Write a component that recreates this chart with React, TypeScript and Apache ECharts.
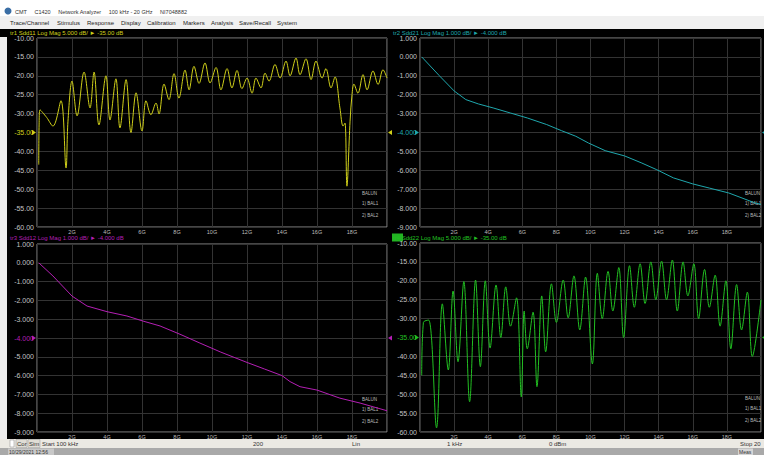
import React, { useEffect, useRef } from "react";
import * as echarts from "echarts";

// ---------- DATA ----------
// tr1 Sdd11 (GHz, dB)
const s11Freq = [0.1, 0.12, 0.17, 0.55, 0.91, 1.37, 1.66, 1.77, 2.0, 2.29, 2.69, 3.03, 3.26, 3.54, 3.94, 4.17, 4.51, 4.74, 5.09, 5.37, 5.66, 6.0, 6.23, 6.51, 6.8, 6.97, 7.26, 7.54, 7.83, 8.11, 8.46, 8.69, 8.97, 9.26, 9.6, 9.89, 10.23, 10.51, 10.86, 11.14, 11.43, 11.71, 12.0, 12.29, 12.51, 12.8, 13.03, 13.26, 13.6, 13.89, 14.23, 14.46, 14.8, 15.03, 15.37, 15.66, 15.94, 16.29, 16.51, 16.8, 17.03, 17.31, 17.49, 17.6, 17.71, 17.89, 18.0, 18.11, 18.34, 18.63, 18.86, 19.2, 19.49, 19.77, 20.0];
const s11Mag = [-43.5, -33, -29, -31, -33.3, -26.6, -44.4, -32, -21.4, -30.6, -19, -28.5, -19, -33, -20, -31.7, -20.8, -33.8, -21, -35, -24.5, -34.6, -26.6, -30.3, -27.2, -30.1, -22.2, -26.3, -19.4, -25.9, -18.5, -23.7, -17.5, -22, -16.6, -21.9, -17.8, -23.7, -18.1, -23.2, -18.6, -23.4, -20.6, -24.6, -20.6, -23.2, -19.3, -21.4, -17, -20.6, -16.1, -20, -15.3, -19.7, -15.5, -21, -16.1, -20.6, -18.1, -23.2, -20.3, -28.5, -33.3, -32.5, -49.2, -32, -25, -22.2, -24.6, -19.7, -23.7, -18.7, -22.3, -18.4, -20.6];

// tr2 Sdd21
const s21Freq = [0.1, 1.14, 2.0, 2.69, 3.43, 4.29, 5.31, 6.29, 7.43, 8.29, 9.14, 9.89, 10.86, 12.0, 12.97, 13.89, 14.86, 16.0, 16.97, 18.11, 19.66, 20.0];
const s21Mag = [0, -1.0, -1.8, -2.26, -2.49, -2.7, -2.97, -3.23, -3.58, -3.9, -4.2, -4.56, -4.96, -5.24, -5.6, -5.97, -6.4, -6.72, -6.94, -7.2, -7.73, -7.8];

// tr3 Sdd12
const s12Freq = [0.1, 0.91, 2.0, 2.86, 4.0, 5.14, 6.06, 7.03, 8.17, 9.31, 10.5, 12.0, 13.0, 14.0, 14.46, 15.03, 16.0, 17.31, 18.46, 20.0];
const s12Mag = [0, -0.7, -1.77, -2.3, -2.6, -2.83, -3.1, -3.36, -3.8, -4.27, -4.75, -5.3, -5.65, -6.0, -6.32, -6.59, -6.77, -7.2, -7.46, -7.87];

// tr4 Sdd22
const s22Freq = [0.1, 0.2, 0.51, 0.97, 1.31, 1.66, 1.94, 2.23, 2.57, 2.91, 3.26, 3.54, 3.83, 4.11, 4.46, 4.74, 5.03, 5.31, 5.66, 5.94, 6.11, 6.29, 6.63, 6.86, 7.14, 7.37, 7.71, 8.0, 8.4, 8.69, 9.03, 9.37, 9.71, 10.11, 10.4, 10.69, 11.03, 11.31, 11.66, 11.94, 12.29, 12.57, 12.91, 13.2, 13.54, 13.83, 14.17, 14.46, 14.8, 15.09, 15.43, 15.71, 16.06, 16.34, 16.69, 16.97, 17.31, 17.6, 17.94, 18.23, 18.57, 18.86, 19.2, 19.49, 20.0];
const s22Mag = [-45, -31, -30.4, -58.9, -26.1, -43.6, -22.7, -41.4, -20.2, -52, -19.8, -42.7, -20, -37.8, -21.1, -35, -21.6, -32, -24.5, -50.7, -28, -38, -28.3, -48, -24, -38.8, -20.8, -31, -19.8, -29.8, -18.7, -33, -19, -42, -18, -30, -17.5, -28, -16.5, -35, -16, -27, -15.5, -26, -15, -25, -14.8, -25, -14.5, -28, -15, -24, -15.5, -30, -17, -27, -18.5, -32, -20, -38, -21, -33, -23, -40, -25];

const xTicks = [2, 4, 6, 8, 10, 12, 14, 16, 18];

const menuItems = ["Trace/Channel", "Stimulus", "Response", "Display", "Calibration", "Markers", "Analysis", "Save/Recall", "System"];
const menuX = [10, 57, 87, 121, 147, 183, 211, 239, 277];

const headers = [
  "tr1 Sdd11 Log Mag 5.000 dB/ \u25BA -35.00 dB",
  "tr2 Sdd21 Log Mag 1.000 dB/ \u25BA -4.000 dB",
  "tr3 Sdd12 Log Mag 1.000 dB/ \u25BA -4.000 dB",
  "tr4 Sdd22 Log Mag 5.000 dB/ \u25BA -35.00 dB",
];
const traceColors = ["#cfcf1a", "#1fa7ad", "#b41fb4", "#22c022"];
const refLevels = [-35, -4, -4, -35];

const statusItems = [
  { t: "Start 100 kHz", x: 42 },
  { t: "200", x: 253 },
  { t: "Lin", x: 352 },
  { t: "1 kHz", x: 447 },
  { t: "0 dBm", x: 549 },
  { t: "Stop 20", x: 740 },
];

const zip = (a: number[], b: number[]) => a.map((v, i) => [v, b[i]]);

export default function App() {
  const ref = useRef<HTMLDivElement>(null);
  useEffect(() => {
    document.body.style.margin = "0";
    const chart = echarts.init(ref.current!, null, { renderer: "svg" });

    const grids = [
      { left: 37, top: 38, width: 350, height: 189 },
      { left: 420, top: 38, width: 350, height: 189 },
      { left: 37, top: 244, width: 350, height: 188 },
      { left: 420, top: 243, width: 350, height: 189 },
    ];
    const yCfg = [
      { min: -60, max: -10, interval: 5, dec: 2 },
      { min: -9, max: 1, interval: 1, dec: 3 },
      { min: -9, max: 1, interval: 1, dec: 3 },
      { min: -60, max: -10, interval: 5, dec: 2 },
    ];
    const datas = [zip(s11Freq, s11Mag), zip(s21Freq, s21Mag), zip(s12Freq, s12Mag), zip(s22Freq, s22Mag)];

    const labelFont = "Liberation Sans";

    const graphic: any[] = [
      { type: "rect", shape: { x: 0, y: 0, width: 764, height: 16 }, style: { fill: "#ffffff" } },
      { type: "circle", shape: { cx: 8, cy: 11, r: 3.5 }, style: { fill: "#3a6ea5" } },
      { type: "text", x: 15, y: 11.5, style: { text: "CMT     C1420     Network Analyzer     100 kHz - 20 GHz     NI7048882", fill: "#333", font: `5.5px ${labelFont}`, verticalAlign: "middle" } },
      { type: "rect", shape: { x: 0, y: 16, width: 764, height: 13 }, style: { fill: "#f0f0f0" } },
      ...menuItems.map((m, i) => ({ type: "text", x: menuX[i], y: 22.5, style: { text: m, fill: "#222", font: `6px ${labelFont}`, verticalAlign: "middle" } })),
      { type: "rect", shape: { x: 0, y: 37, width: 7, height: 402 }, style: { fill: "#ececec" } },
      { type: "rect", shape: { x: 0, y: 439, width: 764, height: 9 }, style: { fill: "#ebe9e3" } },
      { type: "rect", shape: { x: 10, y: 440, width: 4, height: 7 }, style: { fill: "#fff", stroke: "#888", lineWidth: 0.5 } },
      { type: "rect", shape: { x: 16, y: 439.5, width: 11, height: 8 }, style: { fill: "#e0ddd5", stroke: "#999", lineWidth: 0.5 } },
      { type: "text", x: 17, y: 443.5, style: { text: "Cor", fill: "#333", font: `6px ${labelFont}`, verticalAlign: "middle" } },
      { type: "rect", shape: { x: 28, y: 439.5, width: 12, height: 8 }, style: { fill: "#e0ddd5", stroke: "#999", lineWidth: 0.5 } },
      { type: "text", x: 29, y: 443.5, style: { text: "Sim", fill: "#333", font: `6px ${labelFont}`, verticalAlign: "middle" } },
      ...statusItems.map((s) => ({ type: "text", x: s.x, y: 443.5, style: { text: s.t, fill: "#333", font: `6px ${labelFont}`, verticalAlign: "middle" } })),
      { type: "rect", shape: { x: 0, y: 448, width: 764, height: 7 }, style: { fill: "#a9a9a9" } },
      { type: "rect", shape: { x: 8, y: 448.5, width: 46, height: 6.5 }, style: { fill: "#c8c8c8" } },
      { type: "text", x: 9, y: 452, style: { text: "10/29/2021 12:56", fill: "#333", font: `5px ${labelFont}`, verticalAlign: "middle" } },
      { type: "rect", shape: { x: 738, y: 448.5, width: 15, height: 6.5 }, style: { fill: "#d6d6d6" } },
      { type: "text", x: 739, y: 452, style: { text: "Meas", fill: "#333", font: `5px ${labelFont}`, verticalAlign: "middle" } },
      // trace headers
      { type: "rect", shape: { x: 392, y: 233.5, width: 11, height: 8 }, style: { fill: "#22b422" } },
      ...headers.map((h, i) => ({
        type: "text",
        x: i % 2 === 0 ? 10 : 393,
        y: i < 2 ? 33 : 238,
        style: { text: h, fill: traceColors[i], font: `6px ${labelFont}`, verticalAlign: "middle" },
      })),
      // BALUN legends
      ...grids.flatMap((g) => {
        const bx = g.left + 325;
        const by = g.top + 155;
        return [
          { type: "text", x: bx, y: by, style: { text: "BALUN", fill: "#bbb", font: `4.5px ${labelFont}`, verticalAlign: "middle" } },
          { type: "text", x: bx, y: by + 10, style: { text: "1) BAL1", fill: "#bbb", font: `4.5px ${labelFont}`, verticalAlign: "middle" } },
          { type: "text", x: bx, y: by + 22, style: { text: "2) BAL2", fill: "#bbb", font: `4.5px ${labelFont}`, verticalAlign: "middle" } },
        ];
      }),
    ];

    chart.setOption({
      animation: false,
      backgroundColor: "#000",
      grid: grids.map((g) => ({ ...g, show: true, borderColor: "#8c8c8c", borderWidth: 1, backgroundColor: "transparent" })),
      xAxis: grids.map((_, i) => ({
        type: "value",
        gridIndex: i,
        min: 0,
        max: 20,
        interval: 2,
        axisLine: { show: false },
        axisTick: { show: false },
        splitLine: { show: true, lineStyle: { color: "#333333", width: 1 } },
        axisLabel: {
          show: true,
          margin: 2,
          color: "#bdbdbd",
          fontSize: 5.5,
          fontFamily: labelFont,
          formatter: (v: number) => (xTicks.includes(v) ? `${v}G` : ""),
        },
      })),
      yAxis: grids.map((_, i) => ({
        type: "value",
        gridIndex: i,
        min: yCfg[i].min,
        max: yCfg[i].max,
        interval: yCfg[i].interval,
        axisLine: { show: false },
        axisTick: { show: false },
        splitLine: { show: true, lineStyle: { color: "#333333", width: 1 } },
        axisLabel: {
          show: true,
          margin: 3,
          showMinLabel: true,
          showMaxLabel: true,
          fontSize: 7,
          fontFamily: labelFont,
          color: (v: any) => (Number(v) === refLevels[i] ? traceColors[i] : "#c4c4c4"),
          formatter: (v: number) => v.toFixed(yCfg[i].dec),
        },
      })),
      series: datas.map((d, i) => ({
        type: "line",
        xAxisIndex: i,
        yAxisIndex: i,
        data: d,
        showSymbol: false,
        smooth: i === 1 || i === 2 ? false : 0.35,
        lineStyle: { color: traceColors[i], width: 1 },
        itemStyle: { color: traceColors[i] },
        markPoint: {
          silent: true,
          label: { show: false },
          itemStyle: { color: traceColors[i] },
          data: [
            { coord: [0, refLevels[i]], symbol: "triangle", symbolRotate: -90, symbolSize: [5, 4], symbolOffset: [-3, 0] },
            { coord: [20, refLevels[i]], symbol: "triangle", symbolRotate: 90, symbolSize: [5, 4], symbolOffset: [3, 0] },
          ],
        },
      })),
      graphic,
    });
    return () => chart.dispose();
  }, []);
  return <div ref={ref} style={{ position: "fixed", left: 0, top: 0, width: 764, height: 455 }} />;
}
